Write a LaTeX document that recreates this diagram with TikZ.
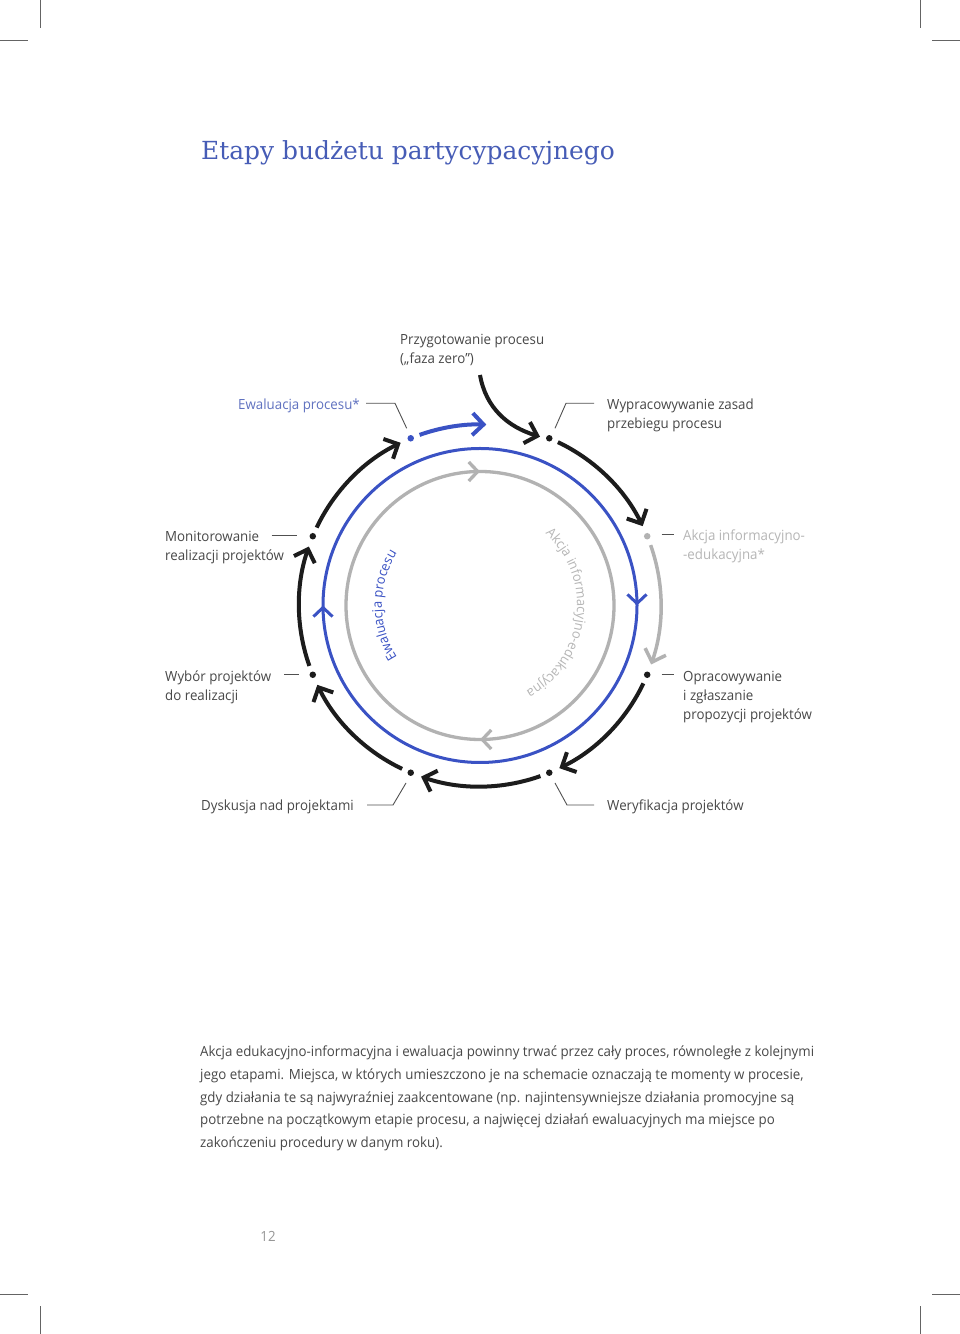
\documentclass[tikz,border=0pt]{standalone}
\usepackage{fontspec}
\setmainfont{Open Sans}[FakeStretch=0.95]
\newfontfamily\titlefont{DejaVu Serif}
\usetikzlibrary{arrows.meta,decorations.markings,decorations.text}
\definecolor{ringblue}{RGB}{58,82,196}
\definecolor{titleblue}{RGB}{70,92,182}
\definecolor{lblblue}{RGB}{96,114,192}
\definecolor{ringgray}{RGB}{178,178,178}
\definecolor{txtgray}{RGB}{182,182,182}
\definecolor{ink}{RGB}{28,28,28}
\definecolor{labeltext}{RGB}{72,72,72}
\definecolor{leader}{RGB}{80,80,80}
\definecolor{cropgray}{RGB}{100,100,100}
\definecolor{pagegray}{RGB}{150,150,150}
\tikzset{
  lbl/.style={font=\fontsize{14}{19}\selectfont, text=labeltext, inner sep=0pt, align=left},
  lblr/.style={lbl, align=right},
  leadline/.style={draw=leader, line width=0.9pt},
  crop/.style={draw=cropgray, line width=0.9pt},
  dotk/.style={circle, fill=ink, inner sep=0pt, minimum size=6.5pt},
  dotg/.style={dotk, fill=ringgray},
  dotb/.style={dotk, fill=ringblue},
  karc/.style={draw=ink, line width=4pt, -{Straight Barb[length=11pt,width=22pt]}},
  garc/.style={draw=ringgray, line width=3.5pt, -{Straight Barb[length=11pt,width=22pt]}},
  barc/.style={draw=ringblue, line width=4pt, -{Straight Barb[length=11pt,width=22pt]}},
  bluering/.style={draw=ringblue, line width=3pt, postaction={decorate},
    decoration={markings,
      mark=at position 0.25 with {\arrow{Straight Barb[length=9pt,width=19pt,color=ringblue,line width=3pt]}},
      mark=at position 0.75 with {\arrow{Straight Barb[length=9pt,width=19pt,color=ringblue,line width=3pt]}}}},
  grayring/.style={draw=ringgray, line width=3.3pt, postaction={decorate},
    decoration={markings,
      mark=at position 0.25 with {\arrow{Straight Barb[length=9pt,width=19pt,color=ringgray,line width=3.3pt]}},
      mark=at position 0.75 with {\arrow{Straight Barb[length=9pt,width=19pt,color=ringgray,line width=3.3pt]}}}}
}
\begin{document}
\begin{tikzpicture}[x=1pt,y=1pt]
\useasboundingbox (0,0) rectangle (960,1334);
\fill[white] (0,0) rectangle (960,1334);

% crop marks
\draw[crop] (40,1334) -- (40,1306);
\draw[crop] (0,1294) -- (28,1294);
\draw[crop] (920,1334) -- (920,1306);
\draw[crop] (932,1294) -- (960,1294);
\draw[crop] (40,0) -- (40,28);
\draw[crop] (0,40) -- (28,40);
\draw[crop] (920,0) -- (920,28);
\draw[crop] (932,40) -- (960,40);

% title
\node[anchor=base west, inner sep=0pt, font=\titlefont\fontsize{24.9}{28}\selectfont, text=titleblue] (title) at (201,1174) {Etapy budżetu partycypacyjnego};

% ring diagram
\begin{scope}[shift={(480,728.5)}]
  \draw[bluering] (90:157) arc[start angle=90,end angle=-270,radius=157];
  \draw[grayring] (180:134) arc[start angle=180,end angle=-180,radius=134];

  \path[decorate, decoration={text along path, text align=center, text color=ringblue,
      text={|\fontsize{13.5}{14}\selectfont|Ewaluacja procesu}}]
      (260:98) arc[start angle=260,end angle=100,radius=98];
  \path[decorate, decoration={text along path, text align=center, text color=txtgray,
      text={|\fontsize{13.5}{14}\selectfont|Akcja informacyjno-edukacyjna}}]
      (100:97) arc[start angle=100,end angle=-114,radius=97];

  \node[dotk] (d1) at (67.5:181) {};
  \node[dotg] (d2) at (22.5:181) {};
  \node[dotk] (d3) at (-22.5:181) {};
  \node[dotk] (d4) at (-67.5:181) {};
  \node[dotk] (d5) at (-112.5:181) {};
  \node[dotk] (d6) at (-157.5:181) {};
  \node[dotk] (d7) at (157.5:181) {};
  \node[dotb] (d8) at (112.5:181) {};

  \draw[karc] (64.5:181) arc[start angle=64.5,end angle=26,radius=181];
  \draw[garc] (19.5:181) arc[start angle=19.5,end angle=-19,radius=181];
  \draw[karc] (-25.5:181) arc[start angle=-25.5,end angle=-64,radius=181];
  \draw[karc] (-70.5:181) arc[start angle=-70.5,end angle=-109,radius=181];
  \draw[karc] (-115.5:181) arc[start angle=-115.5,end angle=-154,radius=181];
  \draw[karc] (-160.5:181) arc[start angle=-160.5,end angle=-199,radius=181];
  \draw[karc] (154.5:181) arc[start angle=154.5,end angle=116,radius=181];
  \draw[barc] (109.5:181) arc[start angle=109.5,end angle=88,radius=181];
\end{scope}

% start arrow
\coordinate (start) at (480,959);
\coordinate (starttip) at (540,897.3);
\draw[karc] (start) to[out=-80,in=163] (starttip);

% labels (multi-line nodes: anchor is the baseline of the last line)
\node[lbl, anchor=base west] (przyg) at (400,970) {Przygotowanie procesu\\(„faza zero”)};
\node[lblr, anchor=base east, text=lblblue] (ewal) at (360,924.5) {Ewaluacja procesu*};
\node[lbl, anchor=base west] (wypr) at (607,905.5) {Wypracowywanie zasad\\przebiegu procesu};
\node[lbl, anchor=base west] (monit) at (165,773.5) {Monitorowanie\\realizacji projektów};
\node[lbl, anchor=base west] (wybor) at (165,633.5) {Wybór projektów\\do realizacji};
\node[lbl, anchor=base west, text=txtgray] (akcja) at (683,774.5) {Akcja informacyjno-\\-edukacyjna*};
\node[lbl, anchor=base west] (oprac) at (683,614.5) {Opracowywanie\\i zgłaszanie\\propozycji projektów};
\node[lblr, anchor=base east] (dysk) at (354,523) {Dyskusja nad projektami};
\node[lbl, anchor=base west] (wery) at (607,523) {Weryfikacja projektów};

% leader lines
\coordinate (l1a) at (366,930.7); \coordinate (l1b) at (395,930.7); \coordinate (l1c) at (406.7,905.7);
\draw[leadline] (l1a) -- (l1b) -- (l1c);
\coordinate (l2a) at (594,930.7); \coordinate (l2b) at (566,930.7); \coordinate (l2c) at (555,905.7);
\draw[leadline] (l2a) -- (l2b) -- (l2c);
\coordinate (l3a) at (271.7,799); \coordinate (l3b) at (297,799);
\draw[leadline] (l3a) -- (l3b);
\coordinate (l4a) at (284,659.5); \coordinate (l4b) at (299,659.5);
\draw[leadline] (l4a) -- (l4b);
\coordinate (l5a) at (661.5,799.5); \coordinate (l5b) at (673.5,799.5);
\draw[leadline] (l5a) -- (l5b);
\coordinate (l6a) at (661.5,659.5); \coordinate (l6b) at (673.5,659.5);
\draw[leadline] (l6a) -- (l6b);
\coordinate (l7a) at (367,529); \coordinate (l7b) at (393,529); \coordinate (l7c) at (406,551);
\draw[leadline] (l7a) -- (l7b) -- (l7c);
\coordinate (l8a) at (594,529); \coordinate (l8b) at (567,529); \coordinate (l8c) at (555,551);
\draw[leadline] (l8a) -- (l8b) -- (l8c);

% note paragraph
\node[lbl, anchor=base west, font=\fontsize{14}{22.6}\selectfont] (note) at (200,186.6) {Akcja edukacyjno-informacyjna i ewaluacja powinny trwać przez cały proces, równoległe z kolejnymi\\jego etapami. Miejsca, w których umieszczono je na schemacie oznaczają te momenty w procesie,\\gdy działania te są najwyraźniej zaakcentowane (np. najintensywniejsze działania promocyjne są\\potrzebne na początkowym etapie procesu, a najwięcej działań ewaluacyjnych ma miejsce po\\zakończeniu procedury w danym roku).};

% page number
\node[anchor=base, inner sep=0pt, font=\fontsize{14}{16}\selectfont, text=pagegray] (page) at (268,1334-1242) {12};
\end{tikzpicture}
\end{document}
